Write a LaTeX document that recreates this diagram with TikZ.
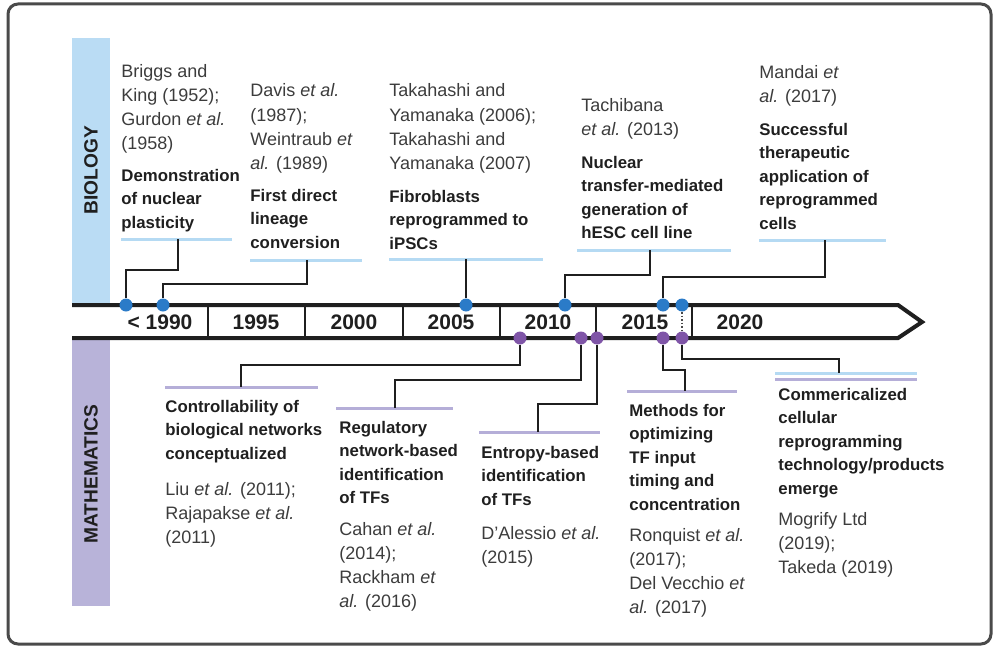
\documentclass[tikz,border=0pt]{standalone}
\usepackage{fontspec}
\setmainfont{Liberation Sans}

\definecolor{frame}{HTML}{4A4A4A}
\definecolor{ink}{HTML}{1F1F1F}
\definecolor{reftxt}{HTML}{3C3C3C}
\definecolor{biofill}{HTML}{BADCF4}
\definecolor{bioline}{HTML}{B5DAF3}
\definecolor{mathfill}{HTML}{B8B3D9}
\definecolor{mathline}{HTML}{B5AED8}
\definecolor{biodot}{HTML}{2B7BC8}
\definecolor{mathdot}{HTML}{7F55A7}

\begin{document}
\begin{tikzpicture}[x=0.5pt,y=-0.5pt,
	ref/.style={anchor=base west, inner sep=0pt, align=left, text=reftxt, font=\fontsize{9}{12}\selectfont},
	what/.style={anchor=base west, inner sep=0pt, align=left, text=ink, font=\fontsize{8.4}{11.75}\selectfont\bfseries},
	year/.style={inner sep=0pt, text=ink, font=\fontsize{10.5}{12}\selectfont\bfseries},
	band/.style={inner sep=0pt, rotate=90, text=ink, font=\fontsize{9.6}{12}\selectfont\bfseries},
	bdot/.style={circle, fill=biodot, inner sep=0pt, minimum size=6.5pt},
	mdot/.style={circle, fill=mathdot, inner sep=0pt, minimum size=6.5pt},
	link/.style={line width=1.2pt, draw=ink},
	biobar/.style={line width=1.5pt, draw=bioline},
	mathbar/.style={line width=1.5pt, draw=mathline}]

	\useasboundingbox (0,0) rectangle (994,647);

	% Frame
	\draw [line width=1.5pt, draw=frame, rounded corners=5pt] (8,4) rectangle (991,644);

	% Bands
	\fill [biofill] (72,38) rectangle (110,303);
	\fill [mathfill] (72,340) rectangle (110,606);
	\node [band] (bio) at (91,170) {BIOLOGY};
	\node [band] (math) at (91,474) {MATHEMATICS};

	% Timeline
	\draw [line width=2pt, draw=ink, fill=white, line join=miter] (72,305) -- (898,305) -- (922,322) -- (898,338) -- (72,338);
	\foreach \x in {208,305,403,500,596,692}
		\draw [line width=1.2pt, draw=ink] (\x,305) -- (\x,338);
	\foreach \x/\yr [count=\i] in {160/{< 1990},256/1995,354/2000,451/2005,548/2010,645/2015,740/2020}
		\node [year] (yr\i) at (\x,322) {\yr};

	% Dots
	\node [bdot] (b1) at (126,305) {};
	\node [bdot] (b2) at (163,305) {};
	\node [bdot] (b3) at (466,305) {};
	\node [bdot] (b4) at (565,305) {};
	\node [bdot] (b5) at (663,305) {};
	\node [bdot] (b6) at (682,305) {};
	\node [mdot] (m1) at (520,338) {};
	\node [mdot] (m2) at (581,338) {};
	\node [mdot] (m3) at (597,338) {};
	\node [mdot] (m4) at (663,338) {};
	\node [mdot] (m5) at (682,338) {};
	\draw [densely dotted, line width=0.8pt, draw=frame] (b6) -- (m5);

	% Biology bars
	\draw [biobar] (121,239) -- (232,239);  \coordinate (bl1) at (178,239);
	\draw [biobar] (250,260) -- (362,260);  \coordinate (bl2) at (307,260);
	\draw [biobar] (389,259) -- (543,259);  \coordinate (bl3) at (466,259);
	\draw [biobar] (577,250) -- (731,250);  \coordinate (bl4) at (650,250);
	\draw [biobar] (759,240) -- (886,240);  \coordinate (bl5) at (825,240);

	\draw [link] (b1) -- ++(0,-35) -| (bl1);
	\draw [link] (b2) -- ++(0,-21) -| (bl2);
	\draw [link] (b3) -- (bl3);
	\draw [link] (b4) -- ++(0,-30) -| (bl4);
	\draw [link] (b5) -- ++(0,-28) -| (bl5);

	% Mathematics bars
	\draw [mathbar] (165,387) -- (318,387);  \coordinate (ml1) at (241,387);
	\draw [mathbar] (336,408) -- (453,408);  \coordinate (ml2) at (395,408);
	\draw [mathbar] (479,432) -- (600,432);  \coordinate (ml3) at (538,432);
	\draw [mathbar] (627,391) -- (737,391);  \coordinate (ml4) at (685,391);
	\draw [biobar] (775,373) -- (917,373);
	\draw [mathbar] (775,379) -- (917,379);  \coordinate (ml5) at (839,373);

	\draw [link] (m1) -- ++(0,27) -| (ml1);
	\draw [link] (m2) -- ++(0,42) -| (ml2);
	\draw [link] (m3) -- ++(0,66) -| (ml3);
	\draw [link] (m4) -- ++(0,32) -| (ml4);
	\draw [link] (m5) -- ++(0,21) -| (ml5);

	% Biology text (placed at the baseline of the last line)
	\node [ref] (br1) at (121,149) {Briggs and\\King (1952);\\Gurdon \textit{et al.}\\(1958)};
	\node [what] (bw1) at (121,228) {Demonstration\\of nuclear\\plasticity};
	\node [ref] (br2) at (250,169) {Davis \textit{et al.}\\(1987);\\Weintraub \textit{et}\\\textit{al.} (1989)};
	\node [what] (bw2) at (250,248) {First direct\\lineage\\conversion};
	\node [ref] (br3) at (389,169) {Takahashi and\\Yamanaka (2006);\\Takahashi and\\Yamanaka (2007)};
	\node [what] (bw3) at (389,249) {Fibroblasts\\reprogrammed to\\iPSCs};
	\node [ref] (br4) at (581,135) {Tachibana\\\textit{et al.} (2013)};
	\node [what] (bw4) at (581,238.5) {Nuclear\\transfer-mediated\\generation of\\hESC cell line};
	\node [ref] (br5) at (759,103) {Mandai \textit{et}\\\textit{al.} (2017)};
	\node [what] (bw5) at (759,229) {Successful\\therapeutic\\application of\\reprogrammed\\cells};

	% Mathematics text
	\node [what] (mw1) at (165,459) {Controllability of\\biological networks\\conceptualized};
	\node [ref] (mr1) at (165,543) {Liu \textit{et al.} (2011);\\Rajapakse \textit{et al.}\\(2011)};
	\node [what] (mw2) at (339,503.5) {Regulatory\\network-based\\identification\\of TFs};
	\node [ref] (mr2) at (339,607) {Cahan \textit{et al.}\\(2014);\\Rackham \textit{et}\\\textit{al.} (2016)};
	\node [what] (mw3) at (481,505) {Entropy-based\\identification\\of TFs};
	\node [ref] (mr3) at (481,563) {D'Alessio \textit{et al.}\\(2015)};
	\node [what] (mw4) at (629,510) {Methods for\\optimizing\\TF input\\timing and\\concentration};
	\node [ref] (mr4) at (629,613) {Ronquist \textit{et al.}\\(2017);\\Del Vecchio \textit{et}\\\textit{al.} (2017)};
	\node [what] (mw5) at (778,494) {Commericalized\\cellular\\reprogramming\\technology/products\\emerge};
	\node [ref] (mr5) at (778,573) {Mogrify Ltd\\(2019);\\Takeda (2019)};

\end{tikzpicture}
\end{document}
